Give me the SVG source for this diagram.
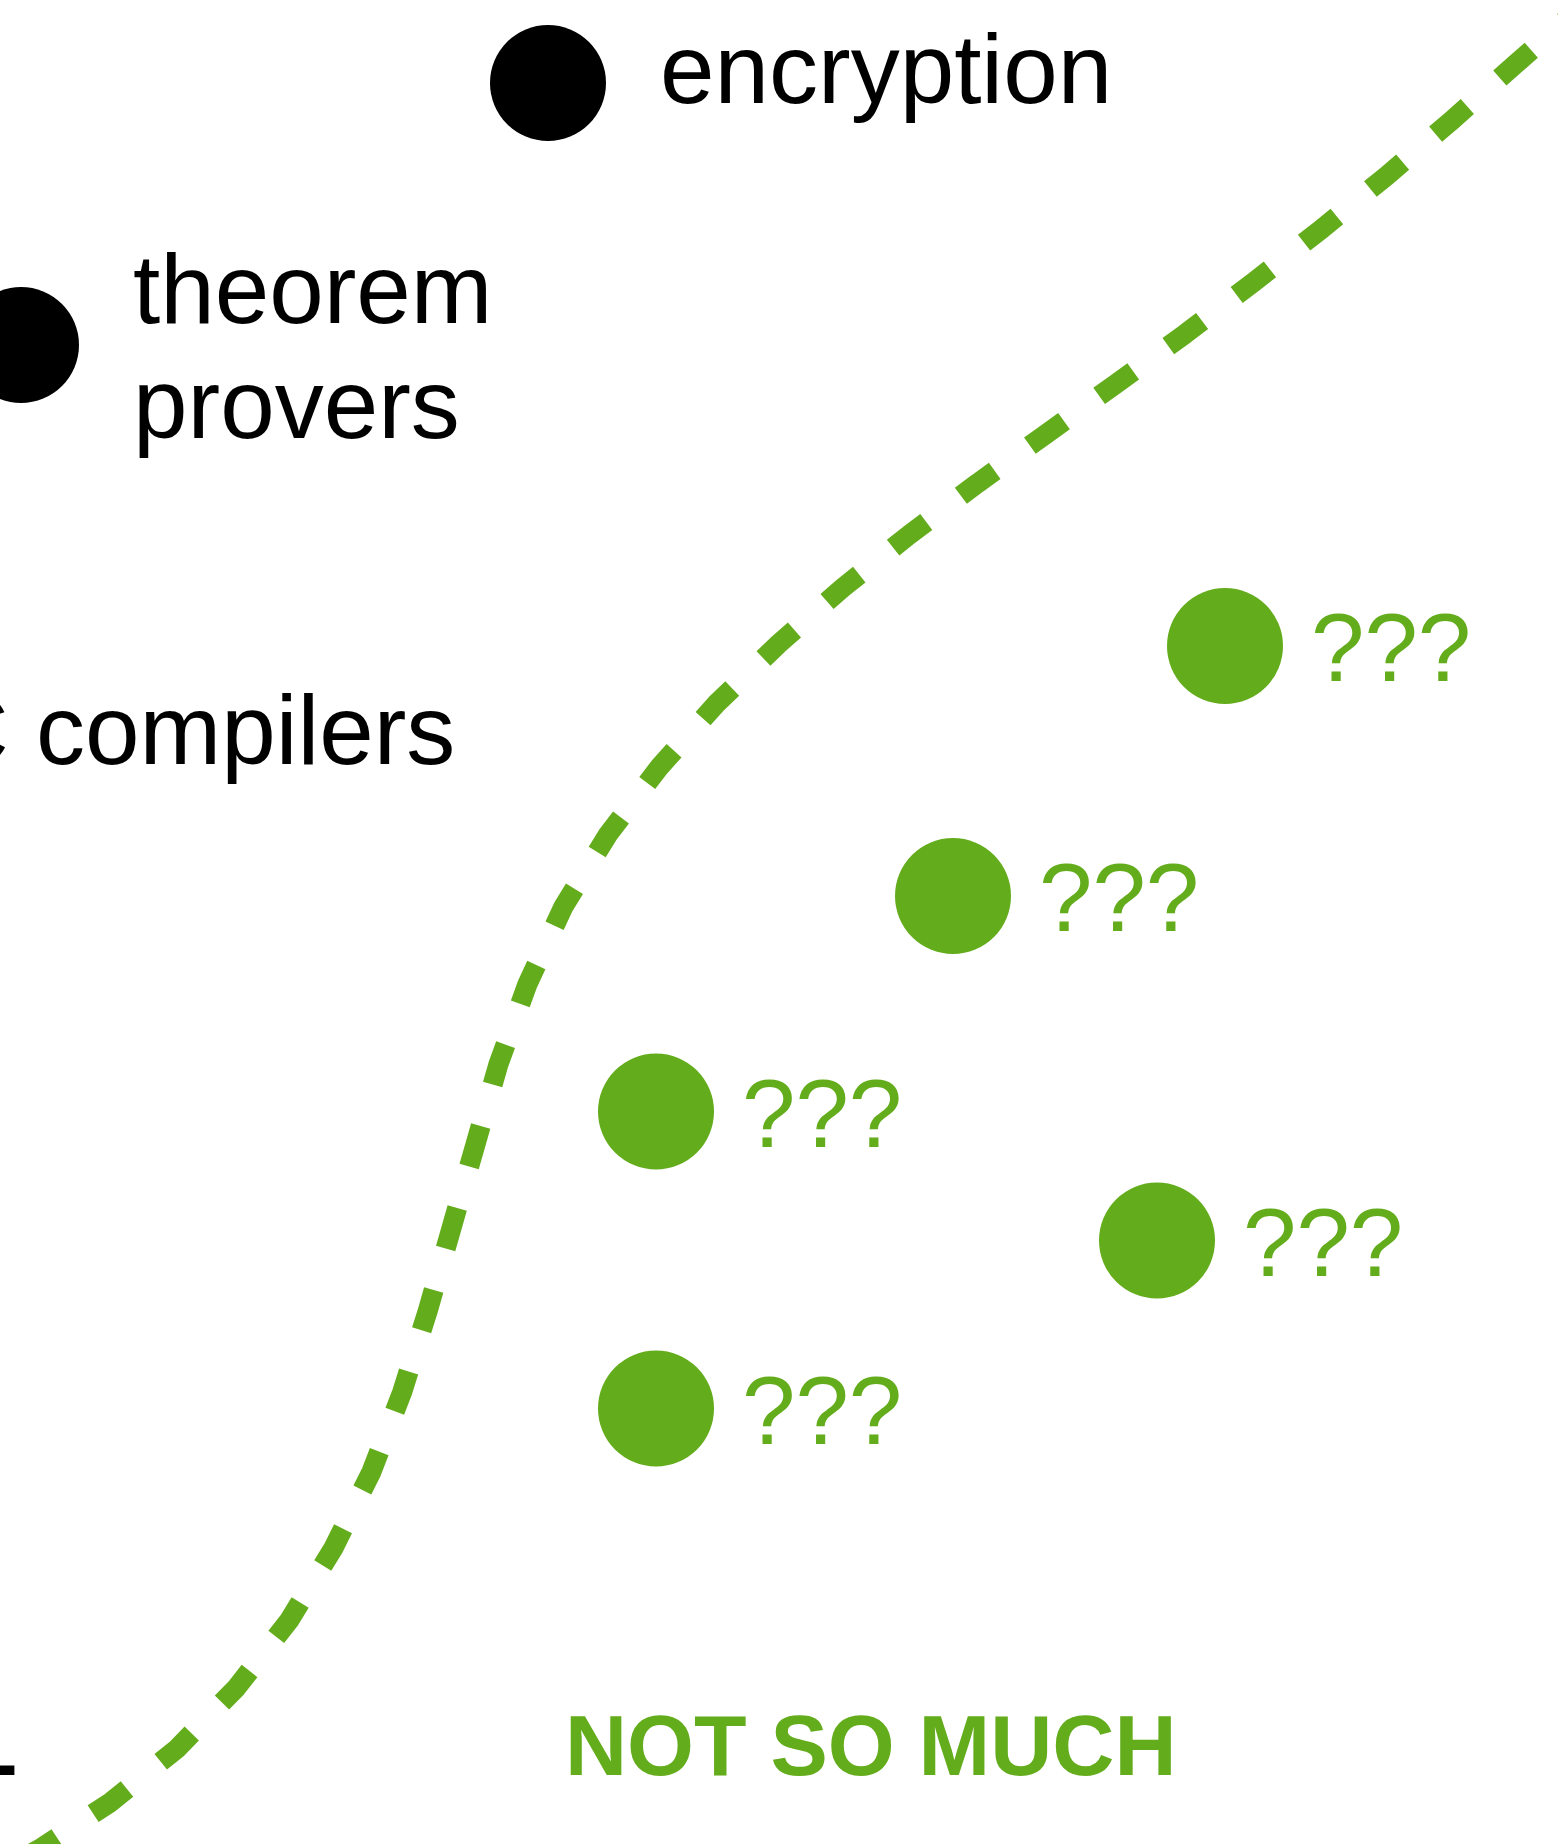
<svg xmlns="http://www.w3.org/2000/svg" width="1558" height="1844" viewBox="0 0 1558 1844">
  <style>
    .lbl { font-family: "Liberation Sans", Arial, Helvetica, sans-serif; font-size: 98px; fill: #000; }
    .q { font-family: "Liberation Sans", Arial, Helvetica, sans-serif; font-size: 96px; fill: #63ac1b; }
    .head { font-family: "Liberation Sans", Arial, Helvetica, sans-serif; font-size: 86px; font-weight: bold; }
    .blk { fill: #000; }
    .grn { fill: #63ac1b; }
    .boundary { fill: none; stroke: #63ac1b; stroke-width: 20; stroke-dasharray: 42 43.3; stroke-dashoffset: 21; stroke-linejoin: round; }
  </style>
  <rect x="0" y="0" width="1558" height="1844" fill="#ffffff"/>

  <g id="connectors">
    <path class="boundary" d="M1579.5,7.6 L1515.6,64 L1451.7,120.4 L1386.7,175.8 L1320.7,229.7 L1253.4,282.3 L1185.3,333.8 L1116,383.8 L1046.7,433.7 L977.5,483.3 L909.3,534.7 L842.8,587.8 L778.5,644 L716.8,703.3 L659.7,766.7 L608,834.5 L563.3,907 L527.3,984.5 L498.3,1064.7 L474.8,1146.7 L451.3,1228.7 L427.8,1310.7 L402.2,1392 L371.5,1471.7 L333.5,1548 L289,1620.7 L236.5,1687.7 L177,1748.7 L110.5,1802.3 L39.5,1849 L-35,1890"/>
  </g>

  <g id="node-encryption">
    <circle class="blk" cx="548" cy="83" r="58"/>
    <text class="lbl" x="660" y="103">encryption</text>
  </g>

  <g id="node-theorem-provers">
    <circle class="blk" cx="21" cy="345" r="58"/>
    <text class="lbl" x="133" y="323">theorem</text>
    <text class="lbl" x="133" y="438">provers</text>
  </g>

  <g id="node-c-compilers">
    <text class="lbl" x="-62" y="764">C compilers</text>
  </g>

  <g id="label-left-heading">
    <text class="head" x="-35.5" y="1774.5" fill="#000">L</text>
  </g>

  <g id="node-q1">
    <circle class="grn" cx="1225" cy="646" r="58"/>
    <text class="q" x="1311" y="681">???</text>
  </g>
  <g id="node-q2">
    <circle class="grn" cx="953" cy="896" r="58"/>
    <text class="q" x="1039" y="931">???</text>
  </g>
  <g id="node-q3">
    <circle class="grn" cx="656" cy="1111.5" r="58"/>
    <text class="q" x="742" y="1147">???</text>
  </g>
  <g id="node-q4">
    <circle class="grn" cx="1157" cy="1240.5" r="58"/>
    <text class="q" x="1243" y="1276">???</text>
  </g>
  <g id="node-q5">
    <circle class="grn" cx="656" cy="1408.5" r="58"/>
    <text class="q" x="742" y="1444">???</text>
  </g>

  <g id="label-not-so-much">
    <text class="head" x="565" y="1775" fill="#63ac1b">NOT SO MUCH</text>
  </g>
</svg>
